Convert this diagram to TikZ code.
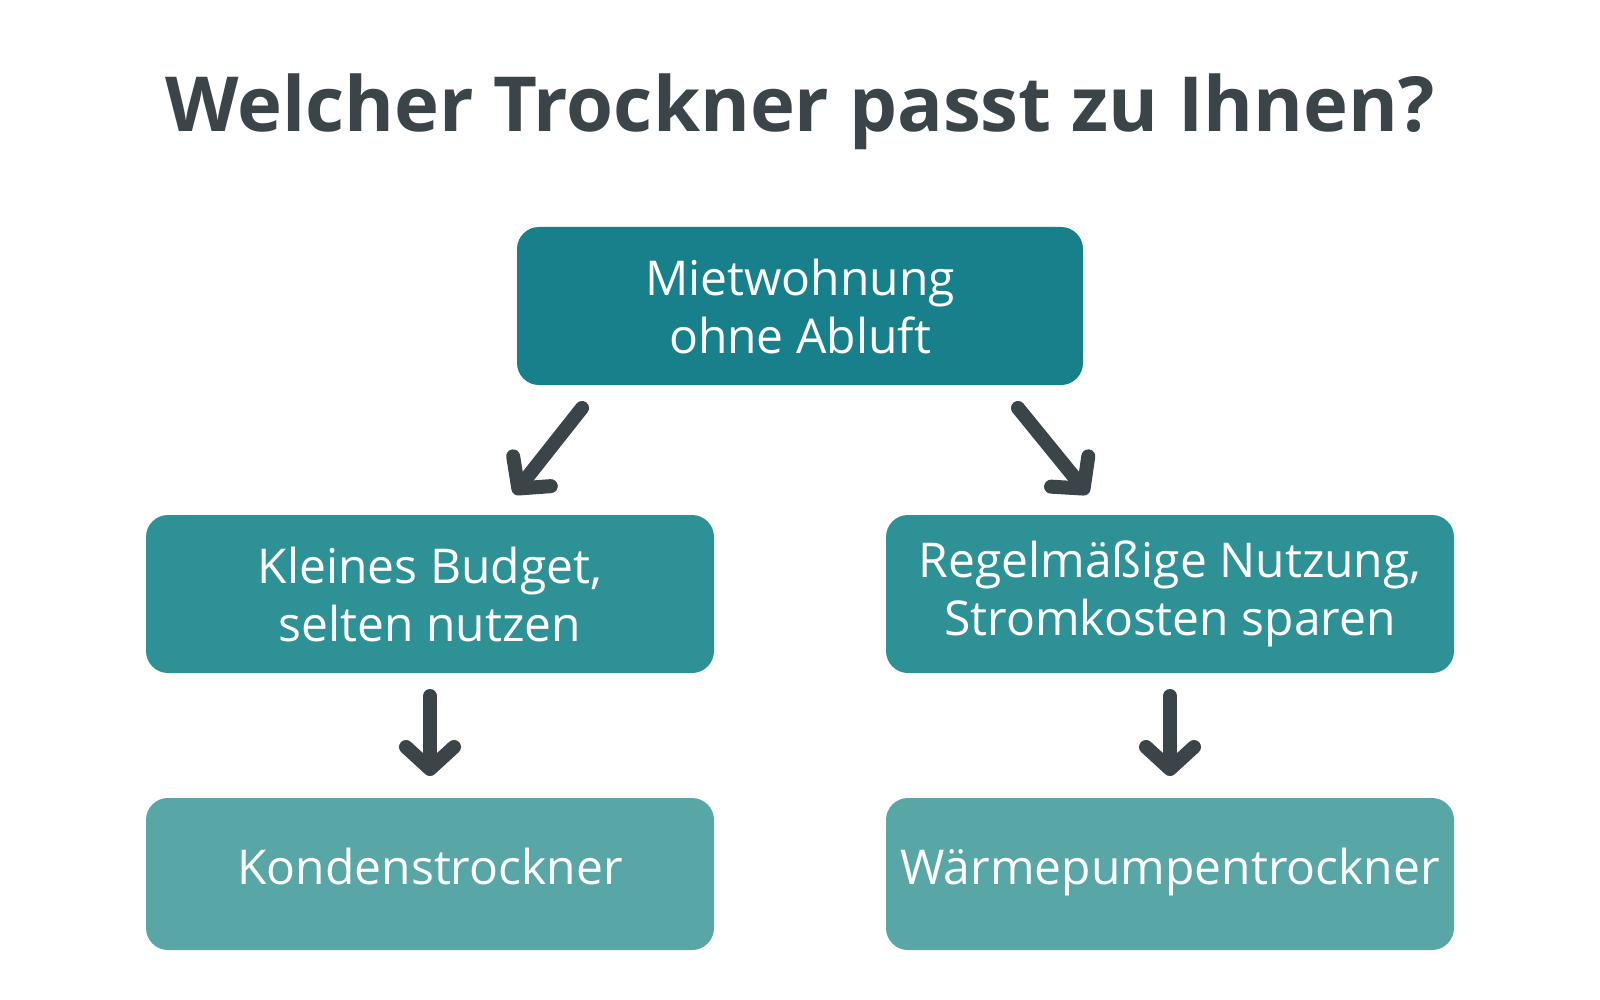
\documentclass[tikz,border=0pt]{standalone}
\usepackage{fontspec}
\setmainfont{Open Sans}
\usetikzlibrary{arrows.meta}
\definecolor{ttl}{HTML}{3A4449}
\definecolor{c1}{HTML}{17808A}
\definecolor{c2}{HTML}{2E9196}
\definecolor{c3}{HTML}{58A6A6}
\begin{document}
\begin{tikzpicture}[x=1pt,y=-1pt,
 box/.style={rounded corners=22pt,minimum width=568pt,minimum height=158pt,text=white,align=center,font=\fontsize{48}{58}\selectfont},
 one/.style={text height=33pt,text depth=13pt},
 arr/.style={line width=14pt,ttl,line cap=round,-{Straight Barb[length=22pt,width=48pt,line width=14pt,round]}}]
\useasboundingbox (0,0) rectangle (1600,1000);
\node[font=\bfseries\fontsize{76}{90}\selectfont,text=ttl] (t) at (800,112) {Welcher Trockner passt zu Ihnen?};
\node[box,fill=c1,minimum width=566pt] (a) at (800,306) {Mietwohnung\\ohne Abluft};
\node[box,fill=c2] (b) at (430,594) {Kleines Budget,\\selten nutzen};
\node[box,fill=c2] (c) at (1170,594) {Regelmäßige Nutzung,\\Stromkosten sparen};
\node[box,fill=c3,minimum height=152pt,one] (d) at (430,874) {Kondenstrockner};
\node[box,fill=c3,minimum height=152pt,one] (e) at (1170,874) {Wärmepumpentrockner};
\coordinate (a1) at (582,408); \coordinate (b1) at (514,494);
\coordinate (a2) at (1018,408); \coordinate (c1) at (1088,494);
\coordinate (b2) at (430,696); \coordinate (d1) at (430,776);
\coordinate (c2) at (1170,696); \coordinate (e1) at (1170,776);
\draw[arr] (a1) -- (b1);
\draw[arr] (a2) -- (c1);
\draw[arr] (b2) -- (d1);
\draw[arr] (c2) -- (e1);
\end{tikzpicture}
\end{document}
